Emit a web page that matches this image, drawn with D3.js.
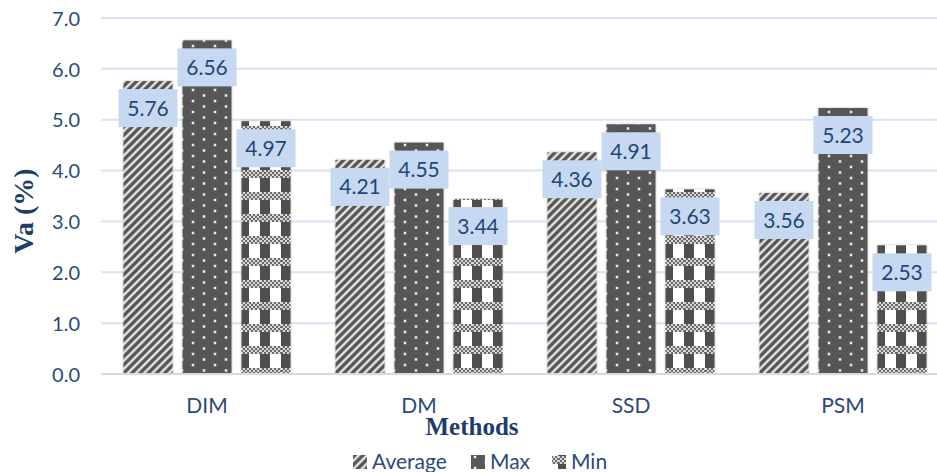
<!DOCTYPE html>
<html>
<head>
<meta charset="utf-8">
<script src="https://cdn.jsdelivr.net/npm/d3@7"></script>
<style>
  html, body { margin: 0; padding: 0; background: #ffffff; }
  svg { display: block; }
</style>
</head>
<body>
<div id="chart"></div>
<script>
// Data
const categories = ["DIM", "DM", "SSD", "PSM"];
const seriesNames = ["Average", "Max", "Min"];
const averageValues = [5.76, 4.21, 4.36, 3.56];
const maxValues = [6.56, 4.55, 4.91, 5.23];
const minValues = [4.97, 3.44, 3.63, 2.53];
const yTickValues = [0, 1, 2, 3, 4, 5, 6, 7];
const xTitle = "Methods";
const yTitle = "Va (%)";

const seriesValues = [averageValues, maxValues, minValues];
const rows = categories.map((c, i) => ({
  category: c,
  values: seriesNames.map((s, k) => ({ series: s, key: k, value: seriesValues[k][i] }))
}));

const W = 937, H = 472;
const plot = { left: 101, right: 949, top: 18, bottom: 374 };
const textBlue = "#2b4a78";
const titleBlue = "#1f3d6b";
const labelFont = "Lato, 'Open Sans', sans-serif";

const svg = d3.select("#chart").append("svg")
  .attr("width", W).attr("height", H);

const defs = svg.append("defs");

// Diagonal stripes for Average
const pAvg = defs.append("pattern").attr("id", "pat-avg")
  .attr("patternUnits", "userSpaceOnUse")
  .attr("width", 5.8).attr("height", 5.8)
  .attr("patternTransform", "rotate(45)");
pAvg.append("rect").attr("width", 5.8).attr("height", 5.8).attr("fill", "#f6f6f6");
pAvg.append("rect").attr("width", 2.9).attr("height", 5.8).attr("fill", "#555555");
pAvg.append("rect").attr("x", 2.9).attr("width", 0.7).attr("height", 5.8).attr("fill", "#a0a0a0");
pAvg.append("rect").attr("x", 5.1).attr("width", 0.7).attr("height", 5.8).attr("fill", "#a0a0a0");

// Dark fill with white dots for Max
const pMax = defs.append("pattern").attr("id", "pat-max")
  .attr("patternUnits", "userSpaceOnUse")
  .attr("width", 22).attr("height", 11);
pMax.append("rect").attr("width", 22).attr("height", 11).attr("fill", "#575757");
[[4, 2], [15, 7.5]].forEach(([x, y]) => {
  pMax.append("rect").attr("x", x - 1.5).attr("y", y - 1.5)
    .attr("width", 3).attr("height", 3).attr("fill", "#9a9a9a");
  pMax.append("rect").attr("x", x - 1).attr("y", y - 1)
    .attr("width", 2).attr("height", 2).attr("fill", "#eeeeee");
});

// Fine checker used inside the Min plaid bands
const pChk = defs.append("pattern").attr("id", "pat-chk")
  .attr("patternUnits", "userSpaceOnUse")
  .attr("width", 4).attr("height", 4);
pChk.append("rect").attr("width", 4).attr("height", 4).attr("fill", "#d8d8d8");
pChk.append("rect").attr("width", 2).attr("height", 2).attr("fill", "#6a6a6a");
pChk.append("rect").attr("x", 2).attr("y", 2).attr("width", 2).attr("height", 2).attr("fill", "#6a6a6a");

// Plaid for Min (origin can be shifted so a swatch starts on a dark column)
function plaid(id, ox, oy) {
  const p = defs.append("pattern").attr("id", id)
    .attr("patternUnits", "userSpaceOnUse")
    .attr("x", ox).attr("y", oy)
    .attr("width", 21).attr("height", 22);
  p.append("rect").attr("width", 21).attr("height", 22).attr("fill", "#ffffff");
  p.append("rect").attr("width", 10).attr("height", 22).attr("fill", "#4f4f4f");
  p.append("rect").attr("y", 14).attr("width", 21).attr("height", 8).attr("fill", "url(#pat-chk)");
}
plaid("pat-min", 243, 2);
plaid("pat-min-key", 552, 449);

const fills = ["url(#pat-avg)", "url(#pat-max)", "url(#pat-min)"];
const keyFills = ["url(#pat-avg)", "url(#pat-max)", "url(#pat-min-key)"];

// Soft edge around bars
const shadow = defs.append("filter").attr("id", "bar-shadow")
  .attr("x", "-20%").attr("y", "-5%").attr("width", "140%").attr("height", "110%");
shadow.append("feDropShadow").attr("dx", 0).attr("dy", 0)
  .attr("stdDeviation", 1.3).attr("flood-color", "#000").attr("flood-opacity", 0.3);

// Scales
const x0 = d3.scaleBand().domain(categories)
  .range([plot.left, plot.right]).paddingInner(0).paddingOuter(0);
const groupPad = 22.5;
const x1 = d3.scaleBand().domain(seriesNames)
  .range([groupPad, x0.bandwidth() - groupPad])
  .paddingInner(10 / 59).paddingOuter(0);
const y = d3.scaleLinear().domain([0, 7]).range([plot.bottom, plot.top]);

// Gridlines
svg.append("g").selectAll("line").data(yTickValues).join("line")
  .attr("x1", plot.left).attr("x2", W)
  .attr("y1", d => y(d)).attr("y2", d => y(d))
  .attr("stroke", "#d9e3f3").attr("stroke-width", 2);

// Y axis tick labels
const yAxis = d3.axisLeft(y).tickValues(yTickValues).tickFormat(d3.format(".1f")).tickSize(0).tickPadding(0);
const gy = svg.append("g").attr("transform", `translate(80,0)`).call(yAxis);
gy.select(".domain").remove();
gy.selectAll("text")
  .attr("fill", textBlue).attr("font-family", labelFont).attr("font-size", 20)
  .attr("dy", "0.36em");

// X axis category labels
const xAxis = d3.axisBottom(x0).tickSize(0).tickPadding(0);
const gx = svg.append("g").attr("transform", `translate(0,${plot.bottom})`).call(xAxis);
gx.select(".domain").remove();
gx.selectAll("text")
  .attr("fill", textBlue).attr("font-family", labelFont).attr("font-size", 21)
  .attr("y", 39).attr("dy", 0);

// Bars
const groups = svg.append("g").selectAll("g.grp").data(rows).join("g")
  .attr("class", "grp")
  .attr("transform", d => `translate(${x0(d.category)},0)`);

groups.selectAll("rect.bar").data(d => d.values).join("rect")
  .attr("class", "bar")
  .attr("x", d => x1(d.series))
  .attr("width", x1.bandwidth())
  .attr("y", d => y(d.value))
  .attr("height", d => y(0) - y(d.value))
  .attr("fill", d => fills[d.key])
  .attr("filter", "url(#bar-shadow)");

// Baseline
svg.append("line")
  .attr("x1", plot.left).attr("x2", W)
  .attr("y1", y(0)).attr("y2", y(0))
  .attr("stroke", "#d3dbe8").attr("stroke-width", 2);

// Value labels
const boxW = 59, boxH = 38, boxOffset = 27;
const labels = groups.selectAll("g.lbl").data(d => d.values).join("g")
  .attr("class", "lbl")
  .attr("transform", d => `translate(${x1(d.series) + x1.bandwidth() / 2},${y(d.value) + boxOffset})`);
labels.append("rect")
  .attr("x", -boxW / 2).attr("y", -boxH / 2)
  .attr("width", boxW).attr("height", boxH)
  .attr("fill", "#c6d9f0");
labels.append("text")
  .attr("text-anchor", "middle").attr("dy", "0.36em")
  .attr("fill", "#1f4677").attr("font-family", labelFont).attr("font-size", 21)
  .text(d => d.value.toFixed(2));

// Axis titles
svg.append("text")
  .attr("x", 472).attr("y", 435)
  .attr("text-anchor", "middle")
  .attr("font-family", "'Liberation Serif', 'Times New Roman', serif")
  .attr("font-weight", "bold").attr("font-size", 25)
  .attr("fill", titleBlue)
  .text(xTitle);

svg.append("text")
  .attr("transform", "translate(33,211) rotate(-90)")
  .attr("text-anchor", "middle")
  .attr("font-family", "'Liberation Serif', 'Times New Roman', serif")
  .attr("font-weight", "bold").attr("font-size", 28)
  .attr("fill", titleBlue)
  .text(yTitle);

// Legend
const legendX = [353, 471, 552];
const legend = svg.append("g").selectAll("g").data(seriesNames).join("g")
  .attr("transform", (d, i) => `translate(${legendX[i]},455)`);
legend.append("rect")
  .attr("width", 14).attr("height", 14)
  .attr("fill", (d, i) => keyFills[i]);
legend.append("text")
  .attr("x", 19).attr("y", 14)
  .attr("fill", textBlue).attr("font-family", labelFont).attr("font-size", 21)
  .text(d => d);
</script>
</body>
</html>
